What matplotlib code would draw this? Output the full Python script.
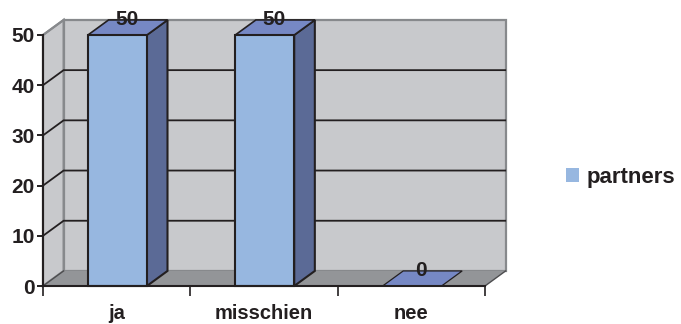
import matplotlib
matplotlib.use('Agg')
import matplotlib.pyplot as plt
from matplotlib.patches import Polygon, Patch

categories = ['ja', 'misschien', 'nee']
values = [50, 50, 0]
y_ticks = [0, 10, 20, 30, 40, 50]
series_name = 'partners'

# colours of the 3D box and bars
wall = '#c8c9cc'
floor = '#939598'
wall_edge = '#87898c'
bar_front = '#97b7e0'
bar_side = '#5b6a96'
bar_top = '#7688c4'
ink = '#231f20'

# depth of the fake 3D projection, in data units
depth_x = 0.14
depth_y = 3.0
bar_width = 0.4
bar_shift = 0.005

plt.rcParams['font.family'] = ['Liberation Sans', 'DejaVu Sans']
plt.rcParams['font.weight'] = 'bold'

W, H = 681, 324
fig = plt.figure(figsize=(W / 100, H / 100), dpi=100)
ax = fig.add_axes([43 / W, 1 - 286 / H, 442 / W, 251 / H])
ax.set_xlim(0, len(categories))
ax.set_ylim(0, 50)
ax.patch.set_visible(False)

n = len(categories)
ymax = max(y_ticks)


def poly(pts, face, edge='none', lw=0.0, z=1):
    ax.add_patch(Polygon(pts, closed=True, facecolor=face, edgecolor=edge,
                         linewidth=lw, zorder=z, clip_on=False, joinstyle='miter'))


# back wall, side wall, floor
poly([(depth_x, depth_y), (n + depth_x, depth_y), (n + depth_x, ymax + depth_y), (depth_x, ymax + depth_y)],
     wall, wall_edge, 1.6)
poly([(0, 0), (depth_x, depth_y), (depth_x, ymax + depth_y), (0, ymax)], wall, wall_edge, 1.6)
poly([(0, 0), (n, 0), (n + depth_x, depth_y), (depth_x, depth_y)], floor)

# gridlines run along the side wall and then the back wall
for t in y_ticks[1:-1]:
    ax.plot([0, depth_x, n + depth_x - 0.003], [t, t + depth_y, t + depth_y],
            color=ink, lw=1.3, zorder=2, clip_on=False, solid_joinstyle='miter')
ax.plot([0, depth_x], [ymax, ymax + depth_y], color=wall_edge, lw=1.4, zorder=2, clip_on=False)
ax.plot([n, n + depth_x], [0, depth_y], color='#4d4d4f', lw=1.0, zorder=2, clip_on=False)
ax.plot([0, depth_x], [0, depth_y], color='#4d4d4f', lw=1.0, zorder=2, clip_on=False)

# the bars
for i, v in enumerate(values):
    c = i + 0.5 + bar_shift
    x0 = c - bar_width / 2
    x1 = c + bar_width / 2
    if v > 0:
        poly([(x1, 0), (x1 + depth_x, depth_y), (x1 + depth_x, v + depth_y), (x1, v)],
             bar_side, ink, 1.5, 3)
        poly([(x0, 0), (x1, 0), (x1, v), (x0, v)], bar_front, ink, 1.5, 4)
    poly([(x0, v), (x1, v), (x1 + depth_x, v + depth_y), (x0 + depth_x, v + depth_y)],
         bar_top, ink, 1.2 if v > 0 else 0.9, 3)
    ax.text(c + depth_x * 0.45, v + depth_y, str(v), ha='center', va='center',
            fontsize=15, color=ink, zorder=6, clip_on=False)

# front edge of the floor and the left axis
for s in ['top', 'right']:
    ax.spines[s].set_visible(False)
for s in ['left', 'bottom']:
    ax.spines[s].set_color(ink)
    ax.spines[s].set_linewidth(1.5)
    ax.spines[s].set_zorder(5)

ax.set_yticks(y_ticks)
ax.tick_params(axis='y', length=4.5, width=1.4, color=ink, labelsize=15, labelcolor=ink, pad=1.5)
ax.set_xticks(range(n + 1))
ax.set_xticklabels([])
ax.tick_params(axis='x', which='major', length=7, width=1.2, color=ink)
ax.set_xticks([i + 0.5 for i in range(n)], categories, minor=True)
ax.tick_params(axis='x', which='minor', length=0, labelsize=14.5, labelcolor=ink, pad=13)

ax.legend(handles=[Patch(facecolor=bar_front, edgecolor='none', label=series_name)],
          loc='center left', bbox_to_anchor=(566 / W, 1 - 177 / H), bbox_transform=fig.transFigure,
          frameon=False, fontsize=16, labelcolor=ink, handlelength=0.58, handleheight=0.58,
          handletextpad=0.35, borderpad=0, borderaxespad=0)

fig.savefig('out.png', dpi=100)
